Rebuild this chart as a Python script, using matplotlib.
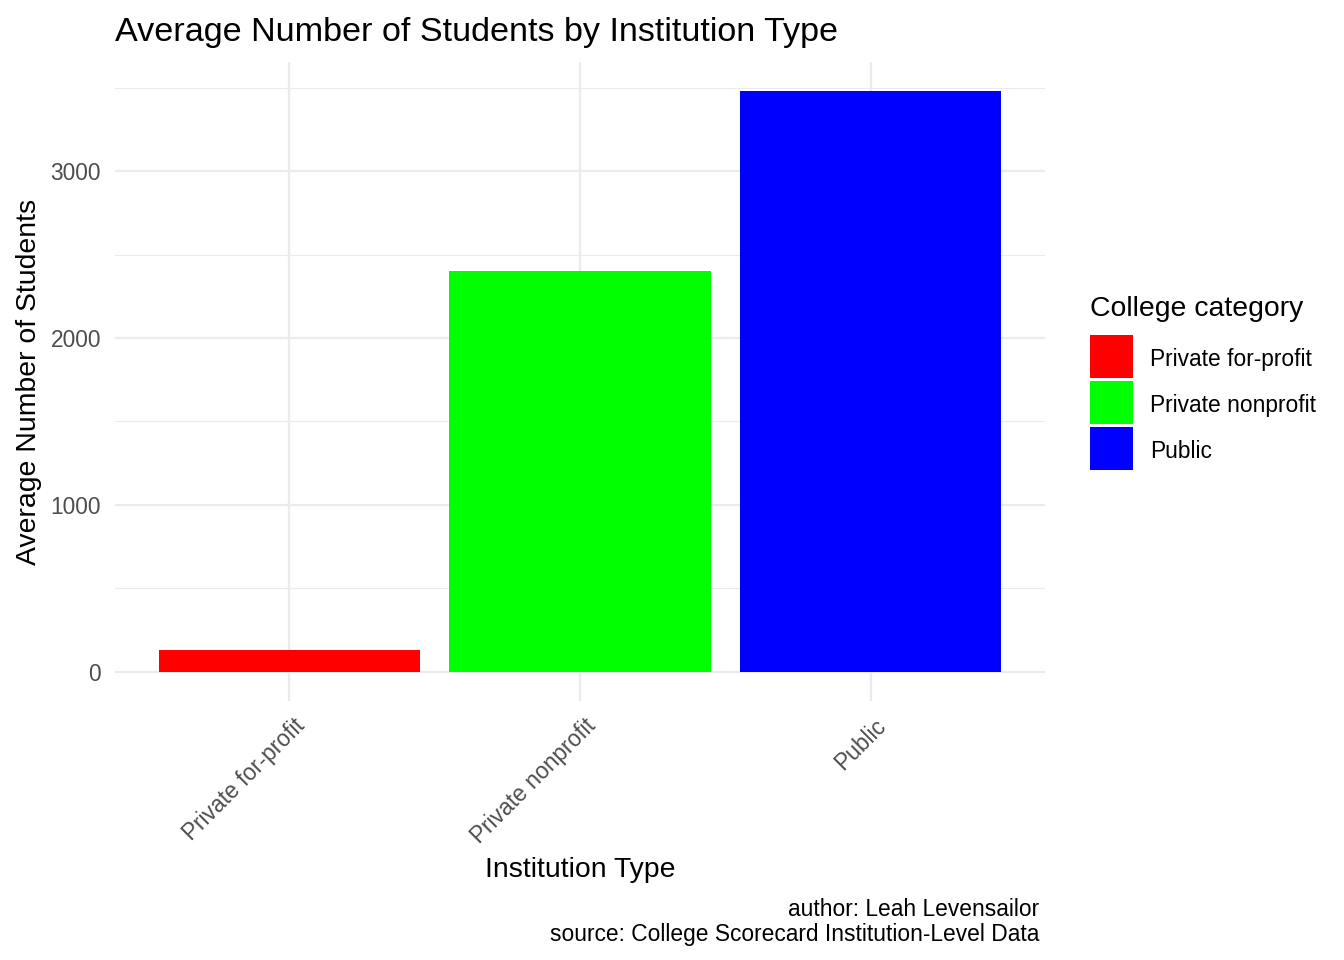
import matplotlib
matplotlib.use("Agg")
import matplotlib.pyplot as plt
import matplotlib.transforms as mtransforms
from matplotlib.patches import Patch

plt.rcParams['font.family'] = ['Liberation Sans', 'DejaVu Sans']

categories = ["Private for-profit", "Private nonprofit", "Public"]
values = [132, 2401, 3479]
colors = ["#FF0000", "#00FF00", "#0000FF"]
yticks = [0, 1000, 2000, 3000]
minor_yticks = [500, 1500, 2500, 3500]

S = 0.97
FS_TITLE = 25.3 * S
FS_AXT = 21.1 * S
FS_TICK = 16.9 * S

W, H = 1344, 960
fig = plt.figure(figsize=(W / 100, H / 100), dpi=100)
ax = fig.add_axes([115 / W, 1 - 701 / H, (1045 - 115) / W, (701 - 62) / H])

x = list(range(1, len(categories) + 1))
ax.bar(x, values, width=0.9, color=colors, zorder=2)

ymax = max(values)
pad = 0.05 * ymax
ax.set_ylim(-pad, ymax + pad)
ax.set_xlim(0.4, len(categories) + 0.6)

ax.set_yticks(yticks)
ax.set_yticks(minor_yticks, minor=True)
ax.set_xticks(x)
ax.set_xticklabels(categories)
ax.grid(True, which='major', color='#EBEBEB', linewidth=1.6, zorder=0)
ax.grid(True, which='minor', axis='y', color='#EBEBEB', linewidth=0.8, zorder=0)
ax.set_axisbelow(True)
for s in ax.spines.values():
    s.set_visible(False)
ax.tick_params(axis='both', which='both', length=0, labelsize=FS_TICK, labelcolor='#4D4D4D')
ax.tick_params(axis='y', pad=10)
ax.tick_params(axis='x', pad=4)

offset = mtransforms.ScaledTranslation(4 / 100, -8 / 100, fig.dpi_scale_trans)
for lab in ax.get_xticklabels():
    lab.set_rotation(45)
    lab.set_ha('right')
    lab.set_va('top')
    lab.set_rotation_mode('anchor')
    lab.set_transform(lab.get_transform() + offset)

ax.set_xlabel("Institution Type", fontsize=FS_AXT, labelpad=6)
ax.set_ylabel("Average Number of Students", fontsize=FS_AXT, labelpad=6)

fig.text(115 / W, 1 - 33 / H, "Average Number of Students by Institution Type",
         fontsize=FS_TITLE, ha='left', va='center')

fig.text(1039 / W, 1 - 910 / H, "author: Leah Levensailor", fontsize=FS_TICK,
         ha='right', va='center')
fig.text(1039 / W, 1 - 935 / H, "source: College Scorecard Institution-Level Data",
         fontsize=FS_TICK, ha='right', va='center')

fig.text(1090 / W, 1 - 309 / H, "College category", fontsize=FS_AXT,
         ha='left', va='center')

fs_px = FS_TICK * 100 / 72
key_px = 43
hh = (key_px / fs_px - 0.245) / 0.65
handles = [Patch(facecolor=c, edgecolor='none') for c in colors]
leg = fig.legend(handles, categories,
                 loc='upper left', bbox_to_anchor=(1090 / W, 1 - 335 / H),
                 frameon=False, fontsize=FS_TICK,
                 handlelength=key_px / fs_px, handleheight=hh, labelspacing=3 / fs_px,
                 handletextpad=17 / fs_px, borderpad=0, borderaxespad=0)
label_shift = mtransforms.ScaledTranslation(0, -3 / 100, fig.dpi_scale_trans)
for t in leg.get_texts():
    t.set_transform(t.get_transform() + label_shift)

fig.savefig("out.png", dpi=100)
